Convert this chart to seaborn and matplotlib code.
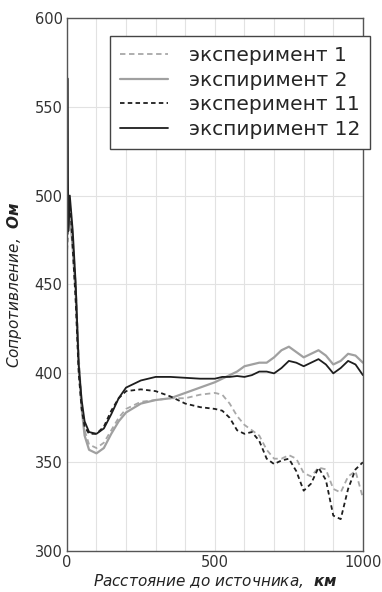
import matplotlib
matplotlib.use("Agg")
import matplotlib.pyplot as plt
import numpy as np
import pandas as pd
import seaborn as sns

distance = [0, 2, 5, 10, 15, 20, 30, 40, 50, 60, 75, 100, 125, 150, 175, 200,
            250, 300, 350, 400, 450, 500, 525, 550, 575, 600, 625, 650, 675,
            700, 725, 750, 775, 800, 825, 850, 875, 900, 925, 950, 975, 1000]

exp1 = [470, 500, 490, 495, 485, 475, 450, 410, 383, 368, 360, 358, 361, 368,
        375, 380, 384, 385, 386, 386, 388, 389, 388, 383, 376, 371, 368, 365,
        357, 352, 352, 354, 352, 344, 342, 347, 346, 335, 333, 342, 345, 330]
exp2 = [480, 490, 495, 485, 480, 470, 445, 405, 380, 365, 357, 355, 358, 366,
        373, 378, 383, 385, 386, 389, 392, 395, 397, 399, 401, 404, 405, 406,
        406, 409, 413, 415, 412, 409, 411, 413, 410, 405, 407, 411, 410, 406]
exp11 = [465, 475, 490, 495, 485, 470, 440, 400, 380, 370, 366, 366, 370, 379,
         386, 390, 391, 390, 387, 383, 381, 380, 379, 375, 368, 366, 367, 362,
         352, 349, 351, 352, 345, 334, 338, 347, 340, 320, 318, 335, 346, 350]
exp12 = [470, 566, 480, 500, 490, 480, 450, 405, 385, 373, 367, 366, 369, 377,
         386, 392, 396, 398, 398, 397.5, 397, 397, 398, 398, 398.5, 398, 399,
         401, 401, 400, 403, 407, 406, 404, 406, 408, 405, 400, 403, 407, 405, 399]

labels = ["эксперимент 1", "экспиримент 2", "эксперимент 11", "экспиримент 12"]
series = [exp1, exp2, exp11, exp12]
styles = [
    dict(color="#a8a8a8", linestyle=(0, (3, 2)), linewidth=1.3),
    dict(color="#a0a0a0", linestyle="-", linewidth=1.6),
    dict(color="#1e1e1e", linestyle=(0, (2.5, 1.8)), linewidth=1.3),
    dict(color="#1e1e1e", linestyle="-", linewidth=1.3),
]

sns.set_theme(style="whitegrid")
plt.rcParams["font.family"] = ["DejaVu Sans"]
plt.rcParams["mathtext.fontset"] = "custom"
plt.rcParams["mathtext.bf"] = "DejaVu Sans:italic:bold"
plt.rcParams["mathtext.rm"] = "DejaVu Sans:italic"

fig = plt.figure(figsize=(3.82, 5.92), dpi=100)
ax = fig.add_axes([0.175, 0.069, 0.775, 0.901])

for values, label, st in zip(series, labels, styles):
    df = pd.DataFrame({"distance": distance, "value": values})
    sns.lineplot(data=df, x="distance", y="value", ax=ax, label=label,
                 sort=False, estimator=None, **st)

ax.set_xlim(0, 1000)
ax.set_ylim(300, 600)
ax.set_xticks([0, 500, 1000])
ax.set_xticks(np.arange(0, 1001, 100), minor=True)
ax.set_yticks(np.arange(300, 601, 50))
ax.set_facecolor("white")
ax.grid(True, which="both", axis="x", color="#e2e2e2", linewidth=0.8)
ax.grid(True, axis="y", color="#e2e2e2", linewidth=0.8)
ax.tick_params(axis="both", labelsize=10.5, labelcolor="#333333", length=0, pad=3)
ax.tick_params(axis="x", which="minor", length=0)
for sp in ax.spines.values():
    sp.set_color("#555555")
    sp.set_linewidth(1.0)

ax.set_xlabel("Расстояние до источника,  $\\mathbf{км}$", fontsize=11,
              style="italic", color="#222222", labelpad=1)
ax.set_ylabel("Сопротивление,  $\\mathbf{Ом}$", fontsize=11,
              style="italic", color="#222222", labelpad=8)

ax.get_legend().remove()
handles, lbls = ax.get_legend_handles_labels()
leg = fig.legend(handles, lbls, loc="upper left",
                 bbox_to_anchor=(110 / 382, 1 - 36 / 592), fontsize=14.5,
                 frameon=True, fancybox=False, handlelength=2.4,
                 labelspacing=0.28, borderpad=0.5, handletextpad=1.0,
                 borderaxespad=0)
leg.get_frame().set_edgecolor("#444444")
leg.get_frame().set_linewidth(1.0)
leg.get_frame().set_alpha(1)

fig.savefig("out.png", dpi=100)
